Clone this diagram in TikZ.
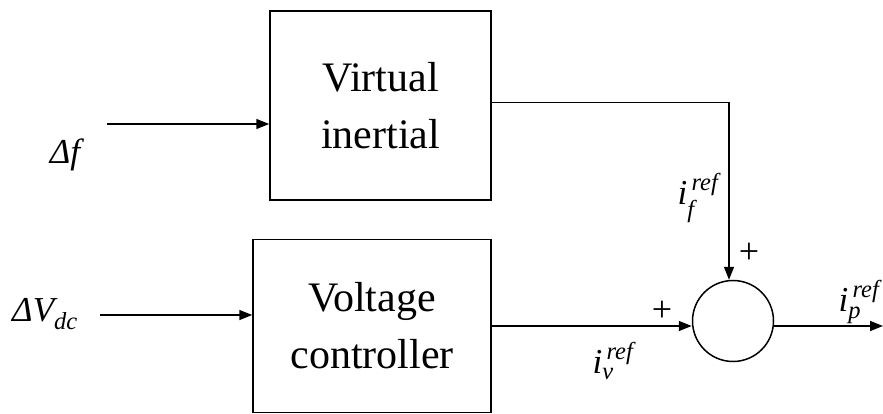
\documentclass[tikz,border=0pt]{standalone}
\usepackage{amsmath}
\usepackage{fontspec}
\setmainfont{Liberation Serif}
\usetikzlibrary{arrows.meta}
\begin{document}
\begin{tikzpicture}[x=1pt,y=-1pt,
  blk/.style={draw,line width=1.5pt,inner sep=0pt,align=center,font=\fontsize{42}{57}\selectfont},
  sumc/.style={draw,circle,line width=1.5pt,minimum size=81pt,inner sep=0pt},
  sig/.style={line width=1.5pt,-{Triangle[length=13pt,width=10pt]}},
  lbl/.style={inner sep=0pt,font=\fontsize{35}{40}\selectfont},
  sml/.style={inner sep=0pt,font=\fontsize{35}{40}\selectfont},
  pls/.style={inner sep=0pt,font=\fontsize{36}{40}\selectfont}]
\useasboundingbox (0,0) rectangle (883,414);
\node[blk,minimum width=221pt,minimum height=189pt] (top) at (380.5,105.5) {Virtual\\inertial};
\node[blk,minimum width=238pt,minimum height=173pt] (bot) at (372,326) {Voltage\\controller};
\node[sumc] (sum) at (733,321) {};
\coordinate (fin) at (107,124);
\coordinate (vin) at (100,315);
\coordinate (out) at (883,326);
\draw[sig] (fin) -- (top.west |- fin);
\draw[sig] (vin) -- (bot.west |- vin);
\draw[sig] ([yshift=3pt]top.east) -| ([xshift=-4pt]sum.north);
\draw[sig] (bot.east) -- (bot.east -| sum.west);
\draw[sig] (bot.east -| sum.east) -- (out);
\node[lbl] (lf) at (67,155) {\textit{Δf}};
\node[lbl] (lv) at (45,314) {$\textit{ΔV}_{\textit{dc}}$};
\node[sml] (lif) at (698,198) {$\textit{i}_{\textit{f}}^{\,\textit{ref}}$};
\node[sml] (liv) at (613,361) {$\textit{i}_{\textit{v}}^{\,\textit{ref}}$};
\node[sml] (lip) at (859,302) {$\textit{i}_{\textit{p}}^{\,\textit{ref}}$};
\node[pls] (p1) at (749,253) {+};
\node[pls] (p2) at (662,311) {+};
\end{tikzpicture}
\end{document}
